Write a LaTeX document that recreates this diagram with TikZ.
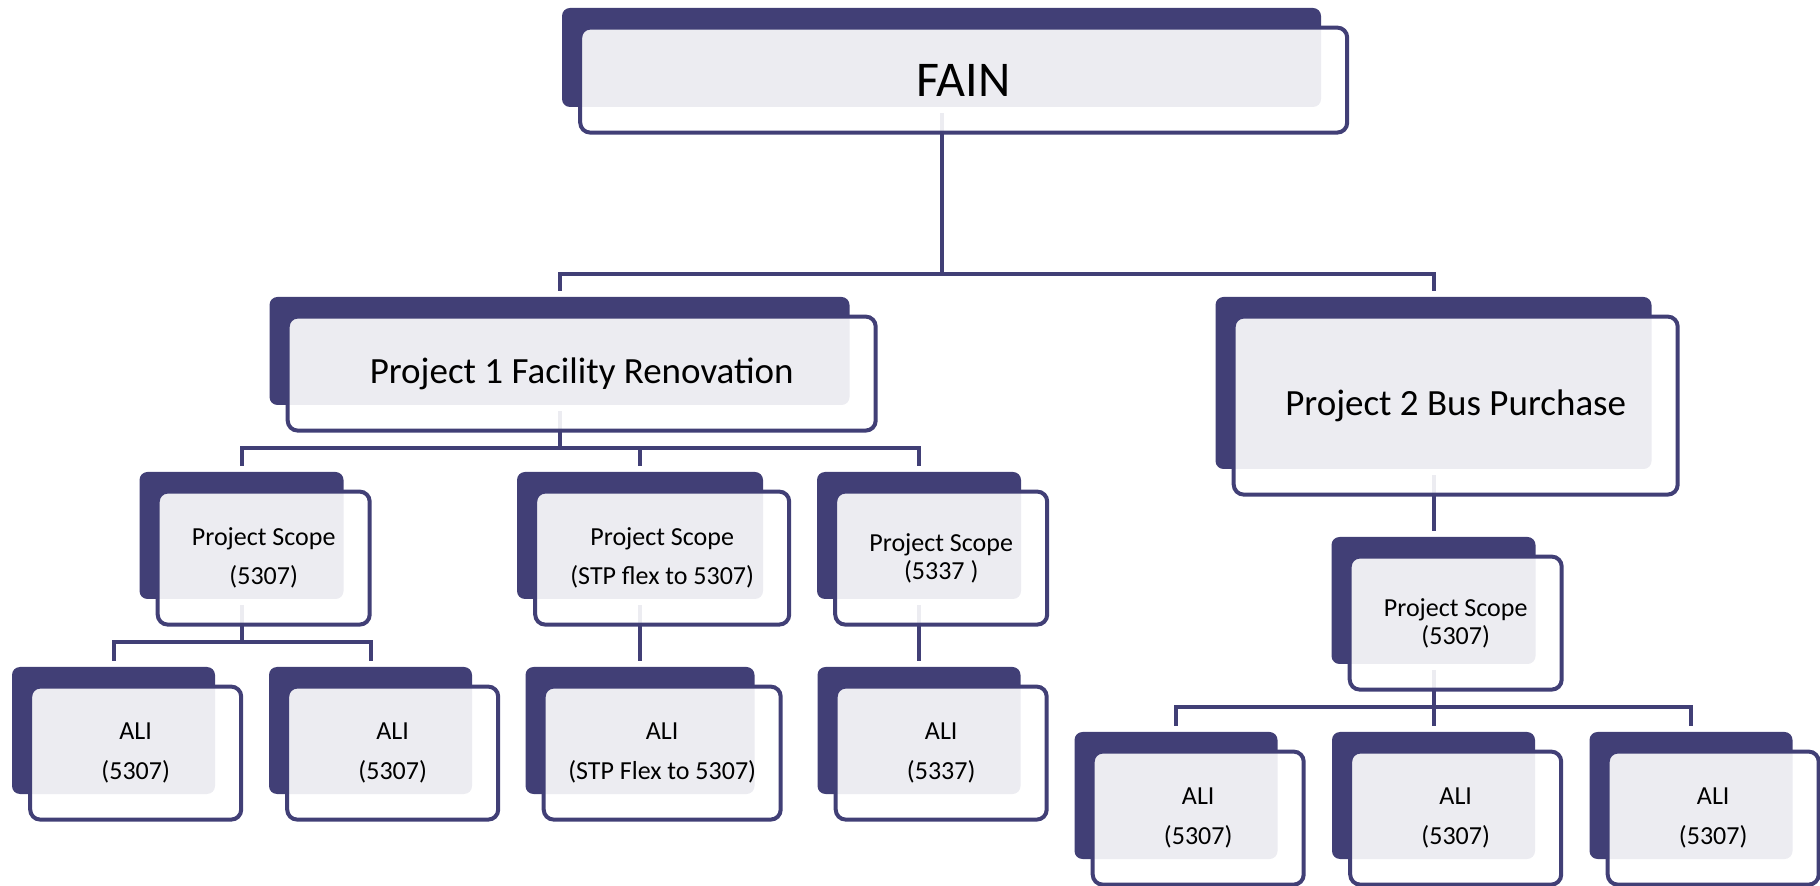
\documentclass[tikz,border=0pt]{standalone}
\usepackage{fontspec}
\setmainfont{Carlito}
\usepackage{xcolor}
\usepackage{tikz}
\usetikzlibrary{positioning}
\definecolor{navy}{HTML}{413F76}
% extra size of the outlined boxes
\def\growx{0pt}
\def\growy{0pt}
\tikzset{
  backnode/.style={fill=navy, rounded corners=4pt, inner sep=0pt},
  frontnode/.style={draw=navy, line width=2pt, fill=white, fill opacity=0.9, text opacity=1, rounded corners=5pt, align=center, inner sep=0pt, xshift=11.1pt, yshift=-11.3pt, grown},
  grown/.code={\def\growx{4pt}\def\growy{3pt}},
  fainsize/.style={minimum width=379.5pt+\growx, minimum height=49.5pt+\growy},
  projonesize/.style={minimum width=290pt+\growx, minimum height=54pt+\growy},
  projtwosize/.style={minimum width=218pt+\growx, minimum height=86pt+\growy},
  scopesize/.style={minimum width=102pt+\growx, minimum height=63.5pt+\growy},
  widesize/.style={minimum width=123pt+\growx, minimum height=63.5pt+\growy},
  alisize/.style={minimum width=101.5pt+\growx, minimum height=63.5pt+\growy},
  aliwidesize/.style={minimum width=114.5pt+\growx, minimum height=63.5pt+\growy},
  bigfont/.style={font=\fontsize{25}{30}\selectfont},
  projfont/.style={font=\fontsize{18.5}{22}\selectfont},
  smallfont/.style={font=\fontsize{13}{19.7}\selectfont},
  tightfont/.style={font=\fontsize{13}{14}\selectfont},
  link/.style={draw=navy, line width=2pt, shorten <=3pt, shorten >=3pt}
}

\begin{document}
\begin{tikzpicture}[x=0.5pt, y=-0.5pt]
\useasboundingbox (0,0) rectangle (1820,886);

% Back nodes
\node[backnode, fainsize] (fainB) at (941.5,57.5) {};
\node[backnode, projonesize] (p1B) at (559.5,351) {};
\node[backnode, projtwosize] (p2B) at (1433.5,383) {};
\node[backnode, scopesize] (sAB) at (241.5,535.5) {};
\node[backnode, widesize] (sBB) at (640,535.5) {};
\node[backnode, scopesize] (sCB) at (919,535.5) {};
\node[backnode, scopesize] (sDB) at (1433.5,600.5) {};
\node[backnode, alisize] (a1B) at (113.5,730.5) {};
\node[backnode, alisize] (a2B) at (370.5,730.5) {};
\node[backnode, aliwidesize] (a3B) at (640,730.5) {};
\node[backnode, alisize] (a4B) at (919,730.5) {};
\node[backnode, alisize] (a5B) at (1176,795.5) {};
\node[backnode, alisize] (a6B) at (1433.5,795.5) {};
\node[backnode, alisize] (a7B) at (1691,795.5) {};

% Junctions
\coordinate (barFain) at (941.5,274);
\coordinate (barOne) at (559.5,448);
\coordinate (barA) at (241.5,642);
\coordinate (barD) at (1433.5,707);

% Edges
\draw[link] (fainB.south) -- (barFain) -| (p1B.north);
\draw[link] (fainB.south) -- (barFain) -| (p2B.north);
\draw[link] (p1B.south) -- (barOne) -| (sAB.north);
\draw[link] (p1B.south) -- (barOne) -| (sBB.north);
\draw[link] (p1B.south) -- (barOne) -| (sCB.north);
\draw[link] (p2B.south) -- (sDB.north);
\draw[link] (sAB.south) -- (barA) -| (a1B.north);
\draw[link] (sAB.south) -- (barA) -| (a2B.north);
\draw[link] (sBB.south) -- (a3B.north);
\draw[link] (sCB.south) -- (a4B.north);
\draw[link] (sDB.south) -- (barD) -| (a5B.north);
\draw[link] (sDB.south) -- (barD) -| (a6B.north);
\draw[link] (sDB.south) -- (barD) -| (a7B.north);

% Front nodes
\node[frontnode, fainsize, bigfont] (fain) at (fainB) {FAIN};
\node[frontnode, projonesize, projfont] (p1) at (p1B) {Project 1 Facility Renovation};
\node[frontnode, projtwosize, projfont] (p2) at (p2B) {Project 2 Bus Purchase};
\node[frontnode, scopesize, smallfont] (sA) at (sAB) {Project Scope\\(5307)};
\node[frontnode, widesize, smallfont] (sB) at (sBB) {Project Scope\\(STP flex to 5307)};
\node[frontnode, scopesize, tightfont] (sC) at (sCB) {Project Scope\\(5337 )};
\node[frontnode, scopesize, tightfont] (sD) at (sDB) {Project Scope\\(5307)};
\node[frontnode, alisize, smallfont] (a1) at (a1B) {ALI\\(5307)};
\node[frontnode, alisize, smallfont] (a2) at (a2B) {ALI\\(5307)};
\node[frontnode, aliwidesize, smallfont] (a3) at (a3B) {ALI\\(STP Flex to 5307)};
\node[frontnode, alisize, smallfont] (a4) at (a4B) {ALI\\(5337)};
\node[frontnode, alisize, smallfont] (a5) at (a5B) {ALI\\(5307)};
\node[frontnode, alisize, smallfont] (a6) at (a6B) {ALI\\(5307)};
\node[frontnode, alisize, smallfont] (a7) at (a7B) {ALI\\(5307)};

\end{tikzpicture}
\end{document}
